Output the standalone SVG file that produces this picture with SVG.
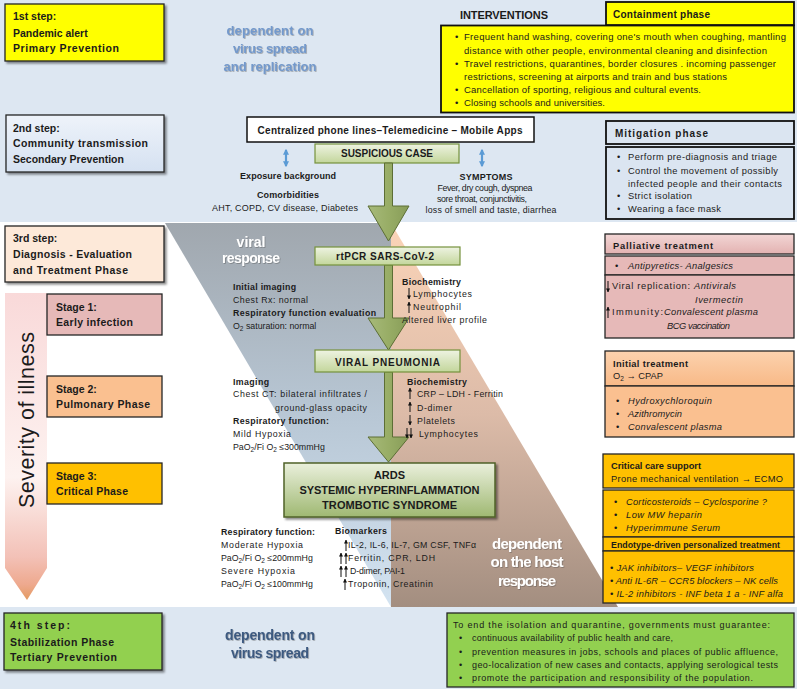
<svg xmlns="http://www.w3.org/2000/svg" width="797" height="689" viewBox="0 0 797 689">
<defs>
<style>
text{font-family:"Liberation Sans",Arial,sans-serif;fill:#1b1b1b}
.b{font-weight:bold}
.i{font-style:italic}
.f8{font-size:8.8px}
.f9{font-size:9.3px}
.f10{font-size:10px}
.st{font-size:10.5px;font-weight:bold}
.c{text-anchor:middle}
.bx{stroke:#262626;stroke-width:1.3}
.hd{stroke:#111;stroke-width:1.8}
.gb{fill:url(#gGreen);stroke:#76923c;stroke-width:1.2}
.sa{stroke:#111;stroke-width:1;fill:none;marker-end:url(#ah)}
.ba{stroke:#5b9bd5;stroke-width:2.2;fill:none;marker-start:url(#bh);marker-end:url(#bh)}
.ga{fill:url(#gArrow);stroke:#5c6e35;stroke-width:1}
.blue{fill:#7399cc;font-weight:bold;font-size:13px}
.wh{fill:#ffffff;font-weight:bold}
</style>
<linearGradient id="gGreen" x1="0" y1="0" x2="0" y2="1"><stop offset="0" stop-color="#eef3e2"/><stop offset="1" stop-color="#c3d69b"/></linearGradient>
<linearGradient id="gArds" x1="0" y1="0" x2="0" y2="1"><stop offset="0" stop-color="#eaf0dc"/><stop offset="1" stop-color="#9fb872"/></linearGradient>
<linearGradient id="gArrow" x1="0" y1="0" x2="1" y2="0"><stop offset="0" stop-color="#a7ba7a"/><stop offset="0.5" stop-color="#98ad66"/><stop offset="1" stop-color="#879c58"/></linearGradient>
<linearGradient id="gBlue" x1="0" y1="0" x2="0" y2="1"><stop offset="0" stop-color="#eef3fa"/><stop offset="1" stop-color="#d5e1f1"/></linearGradient>
<linearGradient id="gPink" x1="0" y1="0" x2="0" y2="1"><stop offset="0" stop-color="#f2d6d5"/><stop offset="1" stop-color="#e3b2b1"/></linearGradient>
<linearGradient id="gOr" x1="0" y1="0" x2="0" y2="1"><stop offset="0" stop-color="#fcd2ae"/><stop offset="1" stop-color="#f8b987"/></linearGradient>
<linearGradient id="gSev" x1="0" y1="0" x2="0" y2="1"><stop offset="0" stop-color="#f9d9d9"/><stop offset="0.6" stop-color="#fdf2f0"/><stop offset="0.86" stop-color="#f3c1b7"/><stop offset="0.95" stop-color="#eea98e"/><stop offset="1" stop-color="#e39a60"/></linearGradient>
<linearGradient id="gGray" x1="0" y1="0" x2="0" y2="1"><stop offset="0" stop-color="#a0a7ae"/><stop offset="0.5" stop-color="#b8c7d5"/><stop offset="1" stop-color="#d3e3f1"/></linearGradient>
<linearGradient id="gPeach" x1="0" y1="0" x2="0" y2="1"><stop offset="0" stop-color="#fbd4b8"/><stop offset="0.5" stop-color="#dcbba8"/><stop offset="1" stop-color="#a38e80"/></linearGradient>
<filter id="sh" x="-5%" y="-5%" width="115%" height="130%"><feDropShadow dx="2" dy="2" stdDeviation="1.2" flood-color="#000" flood-opacity="0.45"/></filter>
<filter id="ts" x="-5%" y="-20%" width="115%" height="150%"><feDropShadow dx="0.8" dy="0.8" stdDeviation="0.6" flood-color="#444" flood-opacity="0.45"/></filter>
<marker id="ah" viewBox="0 0 10 10" refX="9" refY="5" markerWidth="4" markerHeight="4" orient="auto" markerUnits="userSpaceOnUse"><path d="M0,0 L10,5 L0,10 z" fill="#111"/></marker>
<marker id="bh" viewBox="0 0 10 10" refX="8" refY="5" markerWidth="6" markerHeight="6" orient="auto-start-reverse" markerUnits="userSpaceOnUse"><path d="M0,0 L10,5 L0,10 z" fill="#5b9bd5"/></marker>
</defs>

<!-- background bands -->
<rect x="0" y="0" width="797" height="222" fill="#dde7f2"/>
<rect x="0" y="222" width="797" height="385" fill="#ffffff"/>
<rect x="0" y="607" width="797" height="82" fill="#dde7f2"/>

<!-- response triangles -->
<polygon points="165,223 391,223 391,607" fill="url(#gGray)"/>
<polygon points="391,223 391,607 618,607" fill="url(#gPeach)"/>

<!-- severity arrow -->
<g id="severity">
<path d="M5,293 H47 V568 L27,600 L5,568 Z" fill="url(#gSev)"/>
<text transform="translate(34,420) rotate(-90)" class="c" font-size="21.5" textLength="176">Severity of illness</text>
</g>

<!-- top band -->
<g id="step1">
<rect x="5" y="4" width="159" height="57" fill="#ffff00" class="bx" filter="url(#sh)"/>
<text class="st" x="13" y="20">1st step:</text>
<text class="st" x="13" y="37">Pandemic alert</text>
<text class="st" x="13" y="52" textLength="106">Primary Prevention</text>
</g>
<g id="dep-top" filter="url(#ts)">
<text class="blue c" x="270" y="35" textLength="87">dependent  on</text>
<text class="blue c" x="270" y="53" textLength="74">virus spread</text>
<text class="blue c" x="270" y="71" textLength="93">and replication</text>
</g>
<g id="interventions">
<text class="b" x="460" y="19" font-size="11" textLength="88">INTERVENTIONS</text>
</g>
<g id="containment">
<rect x="441" y="25.5" width="353" height="87" fill="#ffff00" stroke="#111" stroke-width="1.8"/>
<rect x="606" y="2" width="188" height="23" fill="#ffff00" class="hd"/>
<text class="b f10" x="613" y="18" textLength="97">Containment phase</text>
<g font-size="9.5">
<text x="455" y="40">•</text><text x="464" y="40" font-size="9.5" textLength="322">Frequent hand washing, covering one's mouth when coughing, mantling</text>
<text x="464" y="54" font-size="9.5" textLength="303">distance with other people, environmental cleaning and disinfection</text>
<text x="455" y="67">•</text><text x="464" y="67" font-size="9.5" textLength="312">Travel restrictions, quarantines, border closures . incoming passenger</text>
<text x="464" y="80" font-size="9.5" textLength="263">restrictions, screening at airports and train and bus stations</text>
<text x="455" y="93">•</text><text x="464" y="93" font-size="9.5" textLength="237">Cancellation of sporting, religious and cultural events.</text>
<text x="455" y="106">•</text><text x="464" y="106" font-size="9.5" textLength="141">Closing schools and universities.</text>
</g>
</g>

<g id="step2">
<rect x="6" y="115" width="158" height="57" fill="url(#gBlue)" class="bx" filter="url(#sh)"/>
<text class="st" x="13" y="132">2nd step:</text>
<text class="st" x="13" y="147" textLength="135">Community transmission</text>
<text class="st" x="13" y="163">Secondary Prevention</text>
</g>
<g id="phone">
<rect x="247" y="117" width="287" height="25" fill="#ffffff" stroke="#111" stroke-width="1.5"/>
<text class="b f10 c" x="390" y="134" textLength="265">Centralized phone lines–Telemedicine – Mobile Apps</text>
</g>
<g id="suspicious">
<rect x="315" y="144" width="144" height="19" class="gb"/>
<text class="b f10 c" x="387" y="157" textLength="92">SUSPICIOUS CASE</text>
</g>
<g id="exposure">
<text class="b c" font-size="9" x="288" y="179" textLength="96">Exposure background</text>
<text class="b c" font-size="9" x="288" y="198" textLength="62">Comorbidities</text>
<text class="c" font-size="9" x="285" y="211" textLength="146">AHT, COPD, CV disease, Diabetes</text>
</g>
<g id="symptoms">
<text class="b c" font-size="9" x="486" y="180" textLength="53">SYMPTOMS</text>
<text class="c" font-size="8.8" x="485" y="191" textLength="95">Fever, dry cough, dyspnea</text>
<text class="c" font-size="8.8" x="482" y="202" textLength="90">sore throat, conjunctivitis,</text>
<text class="c" font-size="8.8" x="491" y="213" textLength="131">loss of smell and taste, diarrhea</text>
</g>
<g id="mitigation">
<rect x="606" y="121" width="188" height="23" fill="#dbe5f1" class="hd"/>
<text class="b f10" x="615" y="137" textLength="93">Mitigation  phase</text>
<rect x="606" y="147" width="188" height="72" fill="#dbe5f1" class="hd"/>
<text class="f9" x="617" y="160">•</text><text class="f9" x="628" y="160" textLength="149">Perform pre-diagnosis and  triage</text>
<text class="f9" x="617" y="174">•</text><text class="f9" x="628" y="174" textLength="150">Control the movement of possibly</text>
<text class="f9" x="628" y="187" textLength="154">infected people and their contacts</text>
<text class="f9" x="617" y="199">•</text><text class="f9" x="628" y="199" textLength="64">Strict isolation</text>
<text class="f9" x="617" y="212">•</text><text class="f9" x="628" y="212" textLength="93">Wearing a face mask</text>
</g>

<!-- middle -->
<g id="step3">
<rect x="5" y="226" width="159" height="56" fill="#fde9d9" class="bx" filter="url(#sh)"/>
<text class="st" x="13" y="242">3rd step:</text>
<text class="st" x="13" y="258" textLength="119">Diagnosis - Evaluation</text>
<text class="st" x="13" y="274" textLength="115">and Treatment Phase</text>
</g>
<g id="stage1">
<rect x="47" y="294" width="115" height="41" fill="#e6b9b8" class="bx"/>
<text class="st" x="56" y="311">Stage 1:</text>
<text class="st" x="56" y="326" textLength="77">Early infection</text>
</g>
<g id="stage2">
<rect x="47" y="376" width="115" height="41" fill="#fac090" class="bx"/>
<text class="st" x="56" y="393">Stage 2:</text>
<text class="st" x="56" y="408" textLength="94">Pulmonary  Phase</text>
</g>
<g id="stage3">
<rect x="47" y="463" width="115" height="41" fill="#ffc000" class="bx"/>
<text class="st" x="56" y="480">Stage 3:</text>
<text class="st" x="56" y="495" textLength="72">Critical Phase</text>
</g>

<g id="viral-response" filter="url(#ts)">
<text class="wh c" font-size="14" x="251" y="247">viral</text>
<text class="wh c" font-size="14" x="251" y="263" textLength="58">response</text>
</g>

<g id="connectors">
<path class="ba" d="M286,150 V166"/>
<path class="ba" d="M482,150 V166"/>
<polygon class="ga" points="384.5,163 392.5,163 392.5,206 409,206 388.5,241 368,206 384.5,206"/>
<polygon class="ga" points="384.5,265 392.5,265 392.5,318 409,318 388.5,350 368,318 384.5,318"/>
<polygon class="ga" points="384.5,372 392.5,372 392.5,437 409,437 388.5,462 368,437 384.5,437"/>
</g>

<g id="rtpcr">
<rect x="315" y="247" width="145" height="18" class="gb"/>
<text class="b f10 c" x="385" y="260" textLength="98">rtPCR SARS-CoV-2</text>
</g>
<g id="initial-eval">
<text class="b f8" x="233" y="290" textLength="63">Initial imaging</text>
<text class="f8" x="233" y="303" textLength="75">Chest Rx: normal</text>
<text class="b f8" x="233" y="316" textLength="143">Respiratory function evaluation</text>
<text class="f8" x="233" y="329">O<tspan font-size="6.5" dy="2">2</tspan><tspan dy="-2"> saturation: normal</tspan></text>
</g>
<g id="biochem1">
<text class="b f8" x="402" y="285" textLength="59">Biochemistry</text>
<path class="sa" d="M409,288 V299"/>
<text class="f8" x="413" y="297" textLength="59">Lymphocytes</text>
<path class="sa" d="M409,313 V302"/>
<text class="f8" x="413" y="310" textLength="48">Neutrophil</text>
<text class="f8" x="402" y="323" textLength="85">Altered liver profile</text>
</g>

<g id="pneumonia">
<rect x="315" y="350" width="145" height="22" class="gb"/>
<text class="b f10 c" x="387.5" y="366" textLength="105">VIRAL PNEUMONIA</text>
</g>
<g id="imaging">
<text class="b f8" x="233" y="385" textLength="36">Imaging</text>
<text class="f8" x="233" y="397" textLength="134">Chest  CT: bilateral infiltrates /</text>
<text class="f8" x="275" y="411" textLength="92">ground-glass opacity</text>
<text class="b f8" x="233" y="424" textLength="96">Respiratory function:</text>
<text class="f8" x="233" y="437" textLength="58">Mild Hypoxia</text>
<text class="f8" x="233" y="450">PaO<tspan font-size="6.5" dy="2">2</tspan><tspan dy="-2">/Fi O</tspan><tspan font-size="6.5" dy="2">2</tspan><tspan dy="-2"> ≤300mmHg</tspan></text>
</g>
<g id="biochem2">
<text class="b f8" x="407" y="385" textLength="60">Biochemistry</text>
<path class="sa" d="M410,399 V388"/>
<text class="f8" x="417" y="397" textLength="86">CRP – LDH - Ferritin</text>
<path class="sa" d="M410,412 V402"/>
<text class="f8" x="417" y="411" textLength="35">D-dimer</text>
<path class="sa" d="M410,415 V425"/>
<text class="f8" x="417" y="424" textLength="38">Platelets</text>
<path class="sa" d="M407,428 V438"/>
<path class="sa" d="M411,428 V438"/>
<text class="f8" x="419" y="437" textLength="59">Lymphocytes</text>
</g>

<g id="ards">
<rect x="284" y="463" width="211" height="54" fill="url(#gArds)" stroke="#4f6228" stroke-width="1.5" filter="url(#sh)"/>
<text class="b c" font-size="11" x="389.5" y="479">ARDS</text>
<text class="b c" font-size="11" x="389.5" y="494" textLength="180">SYSTEMIC HYPERINFLAMMATION</text>
<text class="b c" font-size="11" x="389.5" y="509" textLength="135">TROMBOTIC SYNDROME</text>
</g>
<g id="resp-critical">
<text class="b f8" x="221" y="535" textLength="94">Respiratory function:</text>
<text class="f8" x="221" y="548" textLength="82">Moderate Hypoxia</text>
<text class="f8" x="221" y="561">PaO<tspan font-size="6.5" dy="2">2</tspan><tspan dy="-2">/Fi O</tspan><tspan font-size="6.5" dy="2">2</tspan><tspan dy="-2"> ≤200mmHg</tspan></text>
<text class="f8" x="221" y="574" textLength="74">Severe Hypoxia</text>
<text class="f8" x="221" y="587">PaO<tspan font-size="6.5" dy="2">2</tspan><tspan dy="-2">/Fi O</tspan><tspan font-size="6.5" dy="2">2</tspan><tspan dy="-2"> ≤100mmHg</tspan></text>
</g>
<g id="biomarkers">
<text class="b f8" x="335" y="534" textLength="52">Biomarkers</text>
<path class="sa" d="M346,551 V540"/>
<text class="f8" x="348" y="548" textLength="128">IL-2, IL-6, IL-7, GM CSF, TNFα</text>
<path class="sa" d="M341,564 V553"/>
<path class="sa" d="M346,564 V553"/>
<text class="f8" x="348" y="561" textLength="87">Ferritin, CPR, LDH</text>
<path class="sa" d="M341,577 V566"/>
<path class="sa" d="M346,577 V566"/>
<text class="f8" x="350" y="574" textLength="55">D-dimer, PAI-1</text>
<path class="sa" d="M345,590 V579"/>
<text class="f8" x="348" y="587" textLength="85">Troponin, Creatinin</text>
</g>
<g id="host-response" filter="url(#ts)">
<text class="wh c" font-size="15" x="527" y="549" textLength="70">dependent</text>
<text class="wh c" font-size="15" x="527" y="567" textLength="73">on the host</text>
<text class="wh c" font-size="15" x="527" y="586" textLength="58">response</text>
</g>

<!-- right column -->
<g id="palliative">
<rect x="605" y="234" width="189" height="20" fill="url(#gPink)" class="bx"/>
<text class="b f9" x="613" y="249" textLength="100">Palliative treatment</text>
<rect x="605" y="256" width="189" height="19" fill="#e6b9b8" class="bx"/>
<text class="f9" x="615" y="269">•</text>
<text class="f9 i" x="628" y="269" textLength="105">Antipyretics- Analgesics</text>
<rect x="605" y="275" width="189" height="63" fill="#e6b9b8" class="bx"/>
<path class="sa" d="M608,281 V292"/>
<text class="f9" x="612" y="289" textLength="78">Viral replication:</text>
<text class="f9 i" x="694" y="289" textLength="42">Antivirals</text>
<text class="f9 i" x="695" y="303" textLength="48">Ivermectin</text>
<path class="sa" d="M608,318 V307"/>
<text class="f9" x="612" y="315" textLength="51">Immunity:</text>
<text class="f9 i" x="664" y="315" textLength="94">Convalescent plasma</text>
<text class="f9 i" x="667" y="329" textLength="63">BCG vaccination</text>
</g>
<g id="initial-treatment">
<rect x="605" y="351" width="189" height="35" fill="url(#gOr)" class="bx"/>
<text class="b f9" x="613" y="367" textLength="75">Initial treatment</text>
<text class="f9" x="613" y="379">O<tspan font-size="6.5" dy="2">2</tspan><tspan dy="-2"> → CPAP</tspan></text>
<rect x="605" y="386" width="189" height="51" fill="#fac090" class="bx"/>
<text class="f9" x="616" y="404">•</text><text class="f9 i" x="628" y="404" textLength="84">Hydroxychloroquin</text>
<text class="f9" x="616" y="417">•</text><text class="f9 i" x="628" y="417" textLength="54">Azithromycin</text>
<text class="f9" x="616" y="430">•</text><text class="f9 i" x="628" y="430" textLength="94">Convalescent plasma</text>
</g>
<g id="critical-care">
<rect x="603" y="454" width="191" height="34" fill="#ffc000" class="bx"/>
<text class="b f9" x="611" y="469" textLength="90">Critical  care support</text>
<text class="f9" x="611" y="482" textLength="172">Prone mechanical ventilation → ECMO</text>
<rect x="603" y="490" width="191" height="47" fill="#ffc000" class="bx"/>
<text class="f9" x="614" y="505">•</text><text class="f9 i" x="626" y="505" textLength="141">Corticosteroids – Cyclosporine ?</text>
<text class="f9" x="614" y="518">•</text><text class="f9 i" x="626" y="518" textLength="76">Low MW heparin</text>
<text class="f9" x="614" y="531">•</text><text class="f9 i" x="626" y="531" textLength="94">Hyperimmune Serum</text>
</g>
<g id="endotype">
<rect x="603" y="537" width="191" height="14" fill="#ffc000" class="bx"/>
<text class="b f8" x="611" y="547.5" textLength="169">Endotype-driven personalized treatment</text>
<rect x="603" y="551" width="191" height="52" fill="#ffc000" class="bx"/>
<text class="f9 i" x="610" y="571" textLength="144">• JAK inhibitors– VEGF inhibitors</text>
<text class="f9 i" x="610" y="584" textLength="168">• Anti IL-6R – CCR5 blockers – NK cells</text>
<text class="f9 i" x="610" y="597" textLength="173">• IL-2 inhibitors - INF beta 1 a - INF alfa</text>
</g>

<!-- bottom band -->
<g id="step4">
<rect x="4" y="613" width="158" height="57" fill="#92d050" class="bx" filter="url(#sh)"/>
<text class="st" x="10" y="629" textLength="60">4th step:</text>
<text class="st" x="10" y="646" textLength="104">Stabilization Phase</text>
<text class="st" x="10" y="661" textLength="107">Tertiary Prevention</text>
</g>
<g id="dep-bottom" filter="url(#ts)">
<text class="b c" font-size="14" style="fill:#3d5a80" x="270" y="640" textLength="90">dependent on</text>
<text class="b c" font-size="14" style="fill:#3d5a80" x="270" y="658" textLength="78">virus spread</text>
</g>
<g id="end-isolation">
<rect x="447" y="613" width="347" height="74" fill="#92d050" class="bx"/>
<text font-size="9" x="453" y="628" textLength="317">To end the isolation and quarantine, governments must guarantee:</text>
<text font-size="9" x="459" y="641">•</text><text font-size="9" x="472" y="641" textLength="201">continuous availability of public health and care,</text>
<text font-size="9" x="459" y="655">•</text><text font-size="9" x="472" y="655" textLength="306">prevention  measures in jobs, schools and places of public affluence,</text>
<text font-size="9" x="459" y="668">•</text><text font-size="9" x="472" y="668" textLength="306">geo-localization of new cases and contacts, applying serological tests</text>
<text font-size="9" x="459" y="681">•</text><text font-size="9" x="472" y="681" textLength="281">promote the participation and responsibility of the population.</text>
</g>
</svg>
